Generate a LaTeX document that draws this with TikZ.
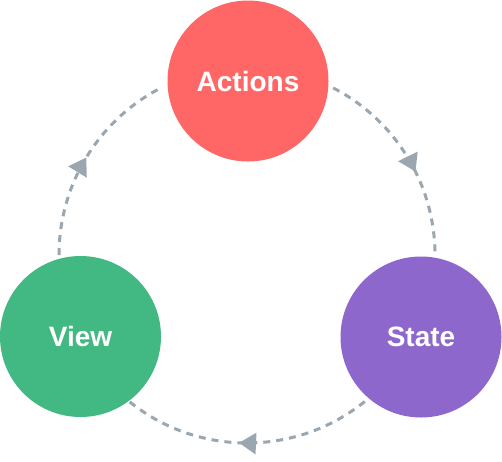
\documentclass[tikz,border=0pt]{standalone}
\usepackage{fontspec}
\setmainfont{Liberation Sans}
\usetikzlibrary{arrows.meta,decorations.markings}
\definecolor{actred}{HTML}{FF6666}
\definecolor{viewgreen}{HTML}{42B983}
\definecolor{statepurple}{HTML}{8E67CC}
\definecolor{flowgrey}{HTML}{9AA7B1}
\tikzset{
  bubble/.style={circle, minimum size=161pt, inner sep=0pt, text=white,
    font=\fontsize{28}{31}\selectfont\bfseries},
  flow/.style={draw=flowgrey, line width=3pt, dash pattern=on 7pt off 6pt},
  midarrow/.style={postaction={decorate}, decoration={markings,
    mark=at position #1 with {\arrow[flowgrey]{Triangle[length=17pt,width=21pt]}}}}
}
\begin{document}
\begin{tikzpicture}[x=1pt,y=-1pt]
\useasboundingbox (0,0) rectangle (502,461);
\coordinate (O) at (247,255);
% connectors (arcs of one large circle round O)
\draw[flow, midarrow=0.58] ([shift={(-62.7:188)}]O) arc[start angle=-62.7, end angle=0, radius=188];
\draw[flow, midarrow=0.53] ([shift={(51.2:188)}]O) arc[start angle=51.2, end angle=129, radius=188];
\draw[flow, midarrow=0.5] ([shift={(180:188)}]O) arc[start angle=180, end angle=242.5, radius=188];
% nodes
\node[bubble, fill=actred] (A) at (248,81) {Actions};
\node[bubble, fill=viewgreen] (V) at (80.5,336.5) {View};
\node[bubble, fill=statepurple] (S) at (421,337) {State};
\end{tikzpicture}
\end{document}
